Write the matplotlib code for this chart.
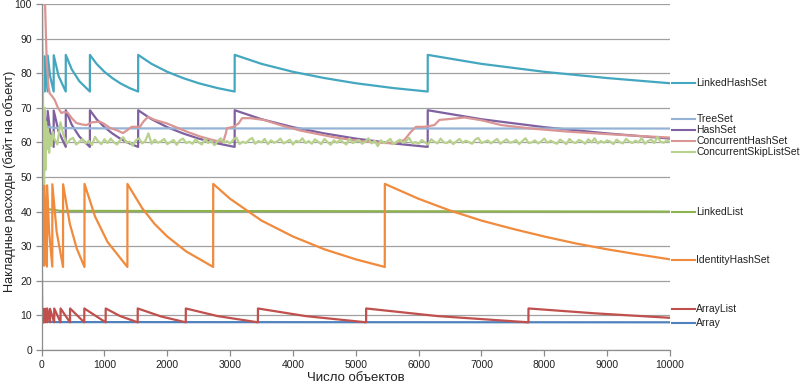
import numpy as np
import matplotlib
matplotlib.use("Agg")
import matplotlib.pyplot as plt

plt.rcParams['font.family'] = ['Liberation Sans', 'DejaVu Sans']

# ---------------- data ----------------
array_x = [1, 2, 4, 8, 16, 32, 60, 120, 250, 10000]
array_y = [24, 16, 12, 10, 9, 8.5, 8.27, 8.13, 8.06, 8.0]

arraylist_x = [2, 10, 11, 16, 17, 25, 26, 38, 39, 58, 59, 88, 89, 133, 134, 200, 201, 301,
               302, 452, 453, 679, 680, 1019, 1020, 1250, 1529, 1530, 1900, 2294, 2295, 2800,
               3442, 3443, 4200, 5164, 5165, 6300, 7747, 7748, 8800, 10000]
arraylist_y = [32, 8.0, 11.6, 8.0, 11.8, 8.0, 11.7, 8.0, 11.9, 8.0, 11.9, 8.0, 12.0, 8.0,
               11.9, 8.0, 12.0, 8.0, 12.0, 8.0, 12.0, 8.0, 12.0, 8.0, 12.0, 9.8, 8.0, 12.0,
               9.7, 8.0, 12.0, 9.8, 8.0, 12.0, 9.8, 8.0, 12.0, 9.8, 8.0, 12.0, 10.6, 9.3]

linkedlist_x = [2, 5, 10, 20, 50, 100, 300, 10000]
linkedlist_y = [76, 54.4, 47.2, 43.6, 41.4, 40.7, 40.2, 40.0]

identity_x = [8, 21, 22, 42, 43, 85, 86, 120, 170, 171, 240, 341, 342, 450, 560, 682, 683,
              850, 1050, 1365, 1366, 1600, 1800, 2000, 2300, 2730, 2731, 3000, 3500, 4000,
              4500, 5000, 5461, 5462, 6000, 6500, 7000, 7500, 8000, 8500, 9000, 9500, 10000]
identity_y = [64, 24.4, 46.5, 24.4, 47.6, 24.1, 47.6, 34.1, 24.1, 47.9, 34.1, 24.0, 47.9,
              36.4, 29.3, 24.0, 48.0, 38.6, 31.2, 24.0, 48.0, 41.0, 36.4, 32.8, 28.5, 24.0,
              48.0, 43.7, 37.4, 32.8, 29.1, 26.2, 24.0, 48.0, 43.7, 40.3, 37.4, 35.0, 32.8,
              30.8, 29.1, 27.6, 26.2]

hash_x = [5, 12, 13, 24, 25, 48, 49, 96, 97, 135, 192, 193, 270, 384, 385, 480, 600, 768,
          769, 875, 1000, 1125, 1250, 1400, 1536, 1537, 1750, 2000, 2250, 2500, 2800, 3072,
          3073, 3500, 4000, 4500, 5000, 5600, 6144, 6145, 7000, 8000, 9000, 10000]
hashset_y = [73.6, 58.7, 67.7, 58.7, 68.5, 58.7, 68.9, 58.7, 69.1, 63.2, 58.7, 69.2, 63.2,
             58.7, 69.3, 65.1, 61.7, 58.7, 69.3, 66.7, 64.4, 62.6, 61.1, 59.7, 58.7, 69.3,
             66.7, 64.4, 62.6, 61.1, 59.7, 58.7, 69.3, 66.7, 64.4, 62.6, 61.1, 59.7, 58.7,
             69.3, 66.7, 64.4, 62.6, 61.1]
linkedhashset_y = [89.6, 74.7, 83.7, 74.7, 84.5, 74.7, 84.9, 74.7, 85.1, 79.2, 74.7, 85.2,
                   79.2, 74.7, 85.3, 81.1, 77.7, 74.7, 85.3, 82.7, 80.4, 78.6, 77.1, 75.7,
                   74.7, 85.3, 82.7, 80.4, 78.6, 77.1, 75.7, 74.7, 85.3, 82.7, 80.4, 78.6,
                   77.1, 75.7, 74.7, 85.3, 82.7, 80.4, 78.6, 77.1]

treeset_x = [5, 10, 20, 50, 100, 200, 500, 1000, 10000]
treeset_y = [73.6, 68.8, 66.4, 65.0, 64.5, 64.2, 64.1, 64.05, 64.0]

conchash_x = [30, 55, 80, 110, 128, 160, 208, 260, 315, 360, 415, 480, 554, 640, 714, 800,
              927, 1000, 1086, 1200, 1294, 1360, 1433, 1565, 1620, 1693, 1800, 1992, 2150,
              2311, 2524, 2700, 2843, 2900, 2930, 2950, 3056, 3136, 3190, 3323, 3535, 3800,
              4121, 4400, 4649, 4900, 5187, 5400, 5607, 5772, 5879, 5958, 6091, 6251, 6331,
              6518, 6730, 7000, 7316, 7800, 8381, 9000, 9660, 10000]
conchash_y = [120, 100, 84, 76, 74.2, 73.5, 72.3, 70.0, 68.5, 68.8, 68.6, 67.0, 65.6, 65.2,
              65.0, 65.8, 66.0, 65.3, 64.2, 63.5, 62.7, 63.5, 64.5, 64.5, 66.0, 67.4, 66.5,
              65.5, 64.3, 63.1, 61.7, 60.8, 60.2, 60.7, 62.5, 64.1, 64.5, 65.5, 67.0, 67.0,
              66.5, 65.0, 63.4, 62.4, 61.5, 60.8, 60.2, 59.9, 59.7, 60.7, 63.1, 64.5, 64.5,
              65.0, 66.5, 66.8, 67.2, 66.4, 65.0, 64.0, 63.1, 62.4, 61.7, 61.4]

skip_x_start = [1, 10, 20, 30, 40, 50, 60, 70, 80, 100, 120, 140, 160, 180]
skip_y_start = [110, 95, 80, 55, 48, 70, 52, 66, 58, 64, 57, 62, 59, 63]
skip_y_main = [
    61.2, 59.4, 65.8, 62.0, 59.6, 60.8, 61.3, 59.4, 60.1, 61.0, 59.7, 60.5, 59.2, 61.6, 60.3, 59.5, 60.9, 59.8, 61.1, 60.0,
    59.4, 60.7, 61.5, 59.9, 60.2, 59.1, 60.6, 61.2, 59.7, 60.4, 62.6, 59.6, 60.8, 59.9, 60.3, 61.0, 59.5, 60.1, 60.7, 59.3,
    60.6, 61.1, 59.8, 60.2, 59.6, 60.9, 60.0, 59.4, 61.0, 59.8, 60.5, 59.2, 60.3, 61.2, 59.9, 60.4, 59.7, 60.8, 61.4, 59.5,
    60.2, 59.8, 60.7, 61.3, 59.6, 60.4, 60.0, 61.0, 59.5, 60.6, 59.9, 60.3, 61.1, 59.7, 60.2, 60.8, 59.4, 60.5, 60.1, 61.2,
    59.8, 60.4, 59.6, 60.9, 60.2, 59.5, 61.0, 60.1, 59.3, 60.6, 59.9, 60.8, 60.0, 59.4, 61.1, 59.8, 60.3, 60.7, 59.6, 60.2,
    61.2, 59.7, 60.5, 58.9, 60.6, 59.8, 60.3, 61.0, 59.5, 60.2, 60.8, 59.9, 60.4, 61.3, 59.7, 60.1, 59.6, 60.7, 60.0, 59.4,
    60.9, 60.2, 59.7, 61.1, 60.0, 59.8, 60.6, 59.5, 60.3, 61.0, 59.9, 60.5, 60.1, 59.6, 60.8, 61.3, 59.8, 60.2, 60.6, 59.7,
    60.4, 61.0, 59.6, 60.3, 60.9, 59.9, 60.1, 60.7, 59.5, 60.4, 61.2, 59.8, 60.0, 60.6, 59.7, 60.3, 61.1, 59.9, 60.5, 60.0,
    59.6, 60.8, 60.2, 59.5, 61.0, 60.1, 59.8, 60.7, 60.3, 59.6, 60.9, 60.0, 61.2, 59.7, 60.4, 59.9, 60.6, 60.2, 59.5, 60.8,
    60.1, 59.7, 61.0, 60.3, 59.8, 60.5, 60.0, 61.3, 59.6, 60.4, 60.9, 59.8, 61.6, 60.2, 59.9, 60.6, 60.1]
skip_x_main = list(range(200, 10001, 50))

series_names = ["Array", "ArrayList", "LinkedList", "IdentityHashSet", "HashSet",
                "LinkedHashSet", "TreeSet", "ConcurrentHashSet", "ConcurrentSkipListSet"]
label_y = [7.8, 11.8, 40.0, 26.0, 63.6, 77.1, 66.8, 60.4, 57.1]

colors = ["#4F81BD", "#C0504D", "#8DB34E", "#F08A3C", "#7F60A0",
          "#44A7C0", "#95B3D7", "#D99694", "#B8D28E"]

xs = [array_x, arraylist_x, linkedlist_x, identity_x, hash_x, hash_x, treeset_x,
      conchash_x, skip_x_start + skip_x_main]
ys = [array_y, arraylist_y, linkedlist_y, identity_y, hashset_y, linkedhashset_y,
      treeset_y, conchash_y, skip_y_start + skip_y_main]

# ---------------- figure ----------------
fig = plt.figure(figsize=(8.0, 3.86), dpi=100)
ax = fig.add_axes([0.052, 0.0933, 0.7855, 0.8963])

for x, y, c in zip(xs, ys, colors):
    ax.plot(x, y, color=c, lw=1.6, solid_joinstyle='round')

ax.set_xlim(0, 10000)
ax.set_ylim(0, 100)
ax.set_xticks(range(0, 10001, 1000))
ax.set_yticks(range(0, 101, 10))
ax.yaxis.grid(True, color="#A0A0A0", lw=0.9)
ax.set_axisbelow(True)
for s in ["top", "right"]:
    ax.spines[s].set_visible(False)
for s in ["left", "bottom"]:
    ax.spines[s].set_color("#8C8C8C")
    ax.spines[s].set_linewidth(0.9)
ax.tick_params(axis='both', direction='out', length=4, width=0.9, color="#8C8C8C",
               labelsize=7.5, labelcolor="#222222", pad=3)

ax.set_xlabel("Число объектов", fontsize=9.5, color="#222222", labelpad=2)
fig.text(10 / 800, 1 - 181 / 386, "Накладные расходы (байт на объект)", fontsize=9.2,
         color="#222222", rotation=90, ha="center", va="center")

# end-of-line labels
for name, ly, c in zip(series_names, label_y, colors):
    ax.plot([10030, 10390], [ly, ly], color=c, lw=1.5, clip_on=False)
    ax.text(10420, ly, name, fontsize=7.5, color="#222222", va="center", ha="left",
            clip_on=False)

fig.savefig("out.png", dpi=100)
